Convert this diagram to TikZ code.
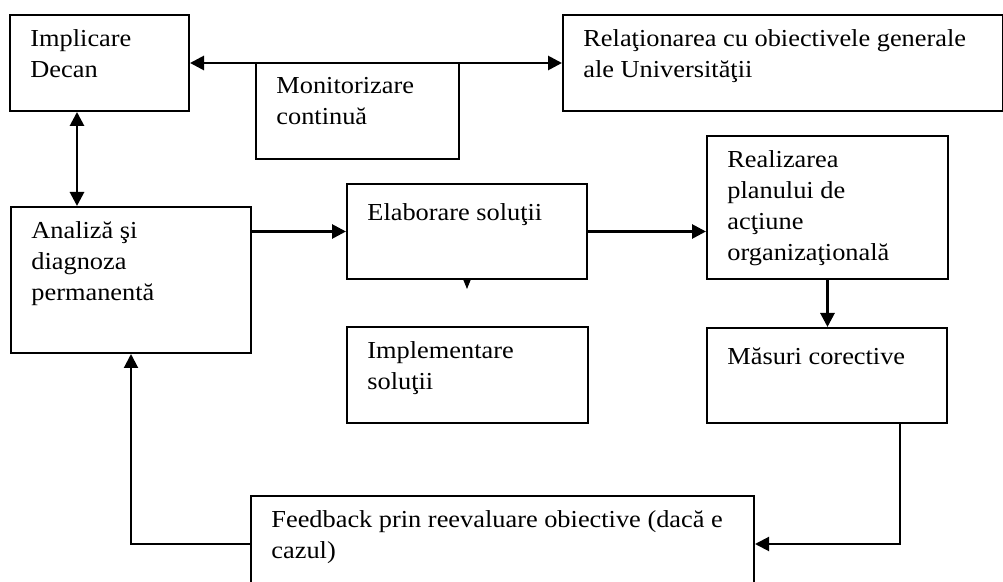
\documentclass[tikz,border=0pt]{standalone}
\usepackage{fontspec}
\setmainfont[FakeStretch=1.08]{Liberation Serif}
\usetikzlibrary{arrows.meta, positioning, calc}

\begin{document}
\begin{tikzpicture}[
    x=0.5pt, y=-0.5pt,
    box/.style={rectangle, draw=black, line width=1pt, anchor=north west,
                inner sep=0pt},
    txt/.style={anchor=north west, align=left, inner xsep=10.5pt,
                inner ysep=7.6pt, font=\fontsize{12.2pt}{15.5pt}\selectfont,
                execute at begin node=\strut},
    arr/.style={-{Triangle[length=7pt, width=7pt]}, line width=1.4pt},
    biarr/.style={{Triangle[length=7pt, width=7pt]}-{Triangle[length=7pt, width=7pt]},
                  line width=1.4pt},
    back/.style={-{Triangle[length=7pt, width=7pt]}, line width=1pt},
    tinytip/.style={-{Triangle[length=4.5pt, width=3.5pt]}, line width=0.4pt}
]
\useasboundingbox (0,0) rectangle (1003,582);

% Boxes
\node[box, minimum width=89.5pt, minimum height=48pt] (dec) at (9,14) {};
\node[txt] at (dec.north west) {Implicare\\Decan};

\node[box, minimum width=220pt, minimum height=48pt] (rel) at (562,14) {};
\node[txt] at (rel.north west) {Relaţionarea cu obiectivele generale\\ale Universităţii};

\node[box, minimum width=101.5pt, minimum height=48pt] (mon) at (255,62) {};
\node[txt] at (mon.north west) {Monitorizare\\continuă};

\node[box, minimum width=120pt, minimum height=73pt] (ana) at (10,206) {};
\node[txt] at (ana.north west) {Analiză şi\\diagnoza\\permanentă};

\node[box, minimum width=120pt, minimum height=47.5pt] (elab) at (346,183) {};
\node[txt] at (elab.north west) {Elaborare soluţii};

\node[box, minimum width=120.5pt, minimum height=71.5pt] (real) at (706,135) {};
\node[txt] at (real.north west) {Realizarea\\planului de\\acţiune\\organizaţională};

\node[box, minimum width=120.5pt, minimum height=48pt] (impl) at (346,326) {};
\node[txt] at (impl.north west) {Implementare\\soluţii};

\node[box, minimum width=120pt, minimum height=47.5pt] (mas) at (706,327) {};
\node[txt] at (mas.north west) {Măsuri corective};

\node[box, minimum width=251.5pt, minimum height=48pt] (fb) at (250,495) {};
\node[txt] at (fb.north west) {Feedback prin reevaluare obiective (dacă e\\cazul)};

% Arrows
\draw[biarr] (dec.east) -- (rel.west);
\draw[biarr] ([xshift=34pt]dec.south west) -- ([xshift=34pt]dec.south west |- ana.north);
\draw[arr] (ana.east |- elab.west) -- (elab.west);
\draw[arr] (elab.east) -- (elab.east -| real.west);
\draw[arr] (real.south) -- (real.south |- mas.north);
\draw[tinytip] (elab.south) -- ([yshift=-4.5pt]elab.south);
\draw[back] ([xshift=-24pt]mas.south east) |- (fb.east);
\draw[back] (fb.west) -| (ana.south);

\end{tikzpicture}
\end{document}
